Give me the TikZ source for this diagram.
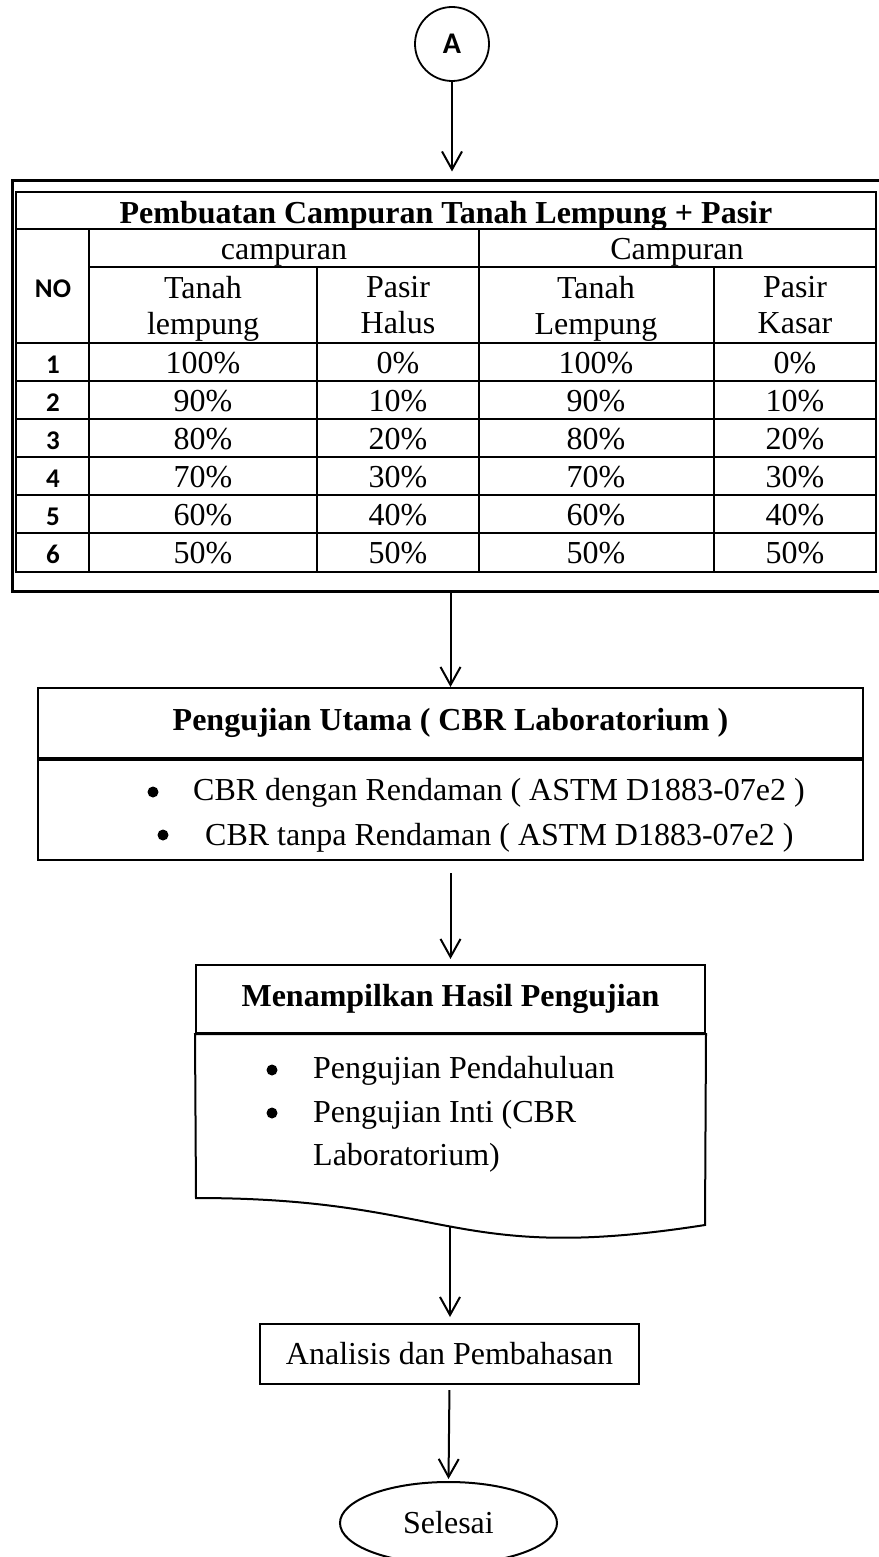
\documentclass[tikz,border=0pt]{standalone}
\usepackage{fontspec}
\setmainfont{Liberation Serif}
\newfontfamily\calibri{Carlito}
\usepackage{tikz}
\usetikzlibrary{arrows.meta,shapes.geometric}

\begin{document}
\begin{tikzpicture}[x=1pt, y=-1pt,
    >={Straight Barb[length=18pt,width=20pt]},
    every node/.style={inner sep=0pt,font=\fontsize{32}{36}\selectfont},
    nomor/.style={anchor=base,font=\calibri\bfseries\fontsize{27}{30}\selectfont},
    tebal/.style={font=\bfseries\fontsize{32}{36}\selectfont},
    titik/.style={circle,fill,minimum size=11pt},
    panah/.style={->,line width=2pt}]
  \useasboundingbox (0,0) rectangle (878,1557);
  \node[circle,draw,line width=1.8pt,minimum size=74pt,
    font=\calibri\bfseries\fontsize{30}{32}\selectfont] (a) at (452,44) {A};
  \node[draw,line width=3pt,minimum width=872pt,minimum height=410pt] (frame) at (448,386) {};
  \draw[line width=1.3pt] (16,192) rectangle (876,572);
  \foreach \y in {229,343,381,419,457,495,533}
    \draw[line width=1.1pt] (16,\y) -- (876,\y);
  \draw[line width=1.1pt] (89,267) -- (876,267);
  \foreach \x in {89,479} \draw[line width=1.1pt] (\x,229) -- (\x,572);
  \foreach \x in {317,714} \draw[line width=1.1pt] (\x,267) -- (\x,572);
  \node[tebal,anchor=base] (judul) at (446,223) {Pembuatan Campuran Tanah Lempung + Pasir};
  \node[anchor=base] (cmpa) at (284,259) {campuran};
  \node[anchor=base] (cmpb) at (677,259) {Campuran};
  \node[nomor] (no) at (53,297) {NO};
  \node[align=center,anchor=north] (tanaha) at (203,276) {Tanah\\lempung};
  \node[align=center,anchor=north] (pasira) at (398,276) {Pasir\\Halus};
  \node[align=center,anchor=north] (tanahb) at (596,276) {Tanah\\Lempung};
  \node[align=center,anchor=north] (pasirb) at (795,276) {Pasir\\Kasar};
  \foreach \i/\t/\p in {1/100/0,2/90/10,3/80/20,4/70/30,5/60/40,6/50/50} {
    \node[nomor] (n\i) at (53,335+38*\i) {\i};
    \node[anchor=base] (ta\i) at (203,335+38*\i) {\t\%};
    \node[anchor=base] (pa\i) at (398,335+38*\i) {\p\%};
    \node[anchor=base] (tb\i) at (596,335+38*\i) {\t\%};
    \node[anchor=base] (pb\i) at (795,335+38*\i) {\p\%};
  }
  \node[draw,line width=2pt,minimum width=825pt,minimum height=70pt,tebal] (uji) at (450.5,723)
    {Pengujian Utama ( CBR Laboratorium )};
  \node[draw,line width=2pt,minimum width=825pt,minimum height=100pt,anchor=north] (ujiisi) at (uji.south) {};
  \node[titik] (ba) at (153,792) {};
  \node[anchor=base west] (la) at (193,800) {CBR dengan Rendaman ( ASTM D1883-07e2 )};
  \node[titik] (bb) at (163,835) {};
  \node[anchor=base west] (lb) at (205,845) {CBR tanpa Rendaman ( ASTM D1883-07e2 )};
  \node[draw,line width=2pt,minimum width=509pt,minimum height=68pt,tebal] (hasil) at (450.5,999)
    {Menampilkan Hasil Pengujian};
  \draw[line width=2pt] (hasil.south west) -- (hasil.south east) -- (705,1225)
    .. controls (450,1265) and (450,1198) .. (196,1198) -- cycle;
  \coordinate (gel) at (450,1226.5);
  \node[titik] (bc) at (272,1070) {};
  \node[anchor=base west] (lc) at (313,1078) {Pengujian Pendahuluan};
  \node[titik] (bd) at (272,1113) {};
  \node[anchor=base west] (ld) at (313,1122) {Pengujian Inti (CBR};
  \node[anchor=base west] (le) at (313,1165) {Laboratorium)};
  \node[draw,line width=2pt,minimum width=379pt,minimum height=60pt] (analisis) at (449.5,1354)
    {Analisis dan Pembahasan};
  \node[ellipse,draw,line width=2pt,minimum width=217pt,minimum height=82pt] (selesai) at (448.5,1523) {Selesai};
  \draw[panah,shorten >=8pt] (a.south) -- (a.south |- frame.north);
  \draw[panah] (frame.south -| uji.north) -- (uji.north);
  \draw[panah,shorten <=12pt,shorten >=5pt] (ujiisi.south) -- (hasil.north);
  \draw[panah,shorten >=6pt] (gel) -- (gel |- analisis.north);
  \draw[panah,shorten <=5pt,shorten >=2pt] (analisis.south) -- (selesai.north);
\end{tikzpicture}
\end{document}
